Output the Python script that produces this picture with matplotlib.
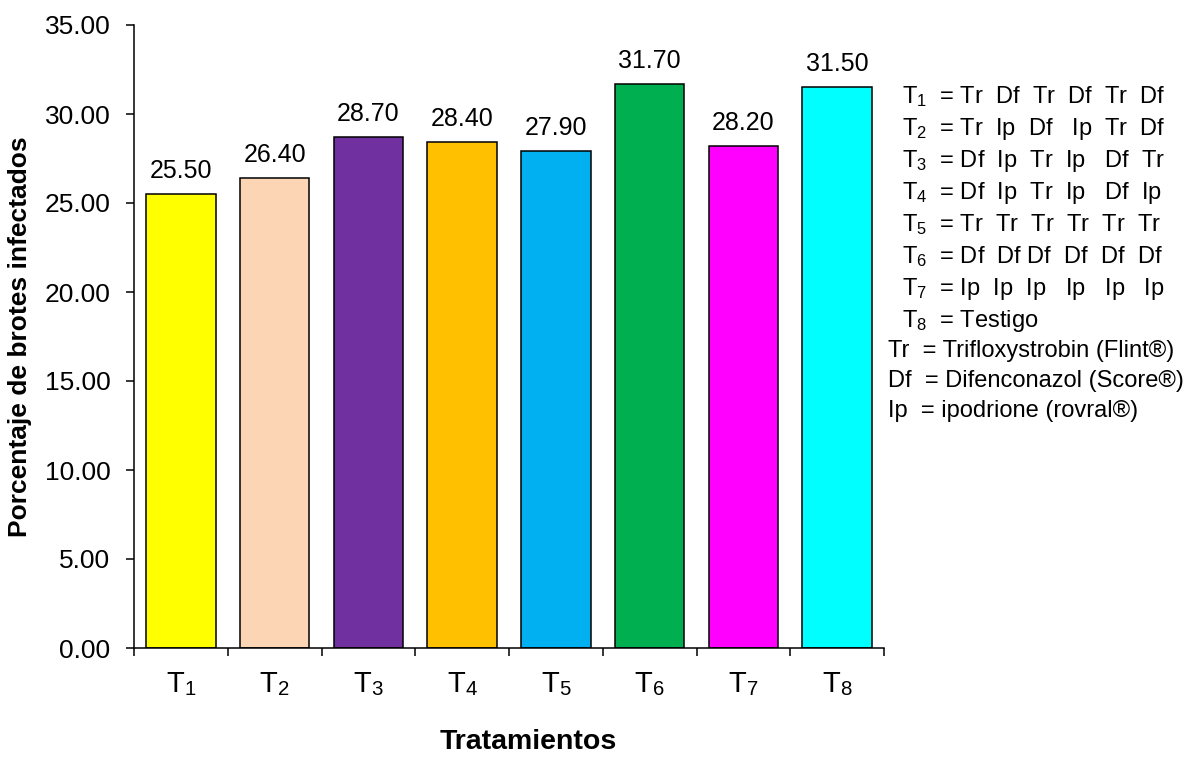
import matplotlib
matplotlib.use("Agg")
import matplotlib.pyplot as plt
from matplotlib.ticker import MultipleLocator, FixedLocator

plt.rcParams['font.family'] = ['Liberation Sans', 'DejaVu Sans']
plt.rcParams['mathtext.fontset'] = 'custom'
plt.rcParams['mathtext.rm'] = 'Liberation Sans'
plt.rcParams['mathtext.it'] = 'Liberation Sans:italic'
plt.rcParams['mathtext.bf'] = 'Liberation Sans:bold'

categories = ["1", "2", "3", "4", "5", "6", "7", "8"]
values = [25.50, 26.40, 28.70, 28.40, 27.90, 31.70, 28.20, 31.50]
colors = ["#FFFF00", "#FCD5B5", "#7030A0", "#FFC000", "#00B0F0", "#00B050", "#FF00FF", "#00FFFF"]
tick_labels = ["T$_\\mathregular{%s}$" % c for c in categories]

legend_t = [
    ("1", "Tr  Df  Tr  Df  Tr  Df"),
    ("2", "Tr  Ip  Df   Ip  Tr  Df"),
    ("3", "Df  Ip  Tr  Ip   Df  Tr"),
    ("4", "Df  Ip  Tr  Ip   Df  Ip"),
    ("5", "Tr  Tr  Tr  Tr  Tr  Tr"),
    ("6", "Df  Df Df  Df  Df  Df"),
    ("7", "Ip  Ip  Ip   Ip   Ip   Ip"),
    ("8", "Testigo"),
]
legend_keys = [
    ("Tr", "Trifloxystrobin (Flint®)"),
    ("Df", "Difenconazol (Score®)"),
    ("Ip", "ipodrione (rovral®)"),
]

W, H = 1190, 758
fig = plt.figure(figsize=(W / 100, H / 100), dpi=100)
ax = fig.add_axes([134 / W, (H - 648) / H, 750 / W, (648 - 25) / H])

x = list(range(len(values)))
bars = ax.bar(x, values, width=0.74, color=colors, edgecolor="black", linewidth=1.1, zorder=2)
for xi, v in zip(x, values):
    ax.annotate(f"{v:.2f}", (xi, v), xytext=(0, 8), textcoords="offset points",
                ha="center", va="bottom", fontsize=18)

ax.set_xlim(-0.5, len(values) - 0.5)
ax.set_ylim(0, 35)
ax.yaxis.set_major_locator(MultipleLocator(5))
ax.set_yticklabels([f"{t:.2f}" for t in ax.get_yticks()], fontsize=19)
ax.tick_params(axis="y", direction="out", length=6, width=1.1, pad=11)

ax.set_xticks(x)
ax.set_xticklabels(tick_labels, fontsize=21)
for lbl in ax.get_xticklabels():
    lbl.set_math_fontfamily('stix')
ax.tick_params(axis="x", which="major", length=0, pad=16)
ax.xaxis.set_minor_locator(FixedLocator([i - 0.5 for i in range(len(values) + 1)]))
ax.tick_params(axis="x", which="minor", direction="out", length=6, width=1.1)

for s in ["top", "right"]:
    ax.spines[s].set_visible(False)
for s in ["left", "bottom"]:
    ax.spines[s].set_linewidth(1.1)

fig.text(20 / W, (H - 337) / H, "Porcentaje de brotes infectados", rotation=90,
         ha="center", va="center", fontsize=19, fontweight="bold")
fig.text(528 / W, (H - 742) / H, "Tratamientos", ha="center", va="center",
         fontsize=20.5, fontweight="bold")

for i, (n, txt) in enumerate(legend_t):
    yb = 103 + 32 * i
    fig.text(902 / W, (H - yb) / H, "T$_\\mathregular{%s}$  = %s" % (n, txt),
             ha="left", va="baseline", fontsize=17)
for i, (k, txt) in enumerate(legend_keys):
    yb = 357 + 30 * i
    fig.text(888 / W, (H - yb) / H, "%s  = %s" % (k, txt),
             ha="left", va="baseline", fontsize=17)

fig.savefig("out.png", dpi=100)
